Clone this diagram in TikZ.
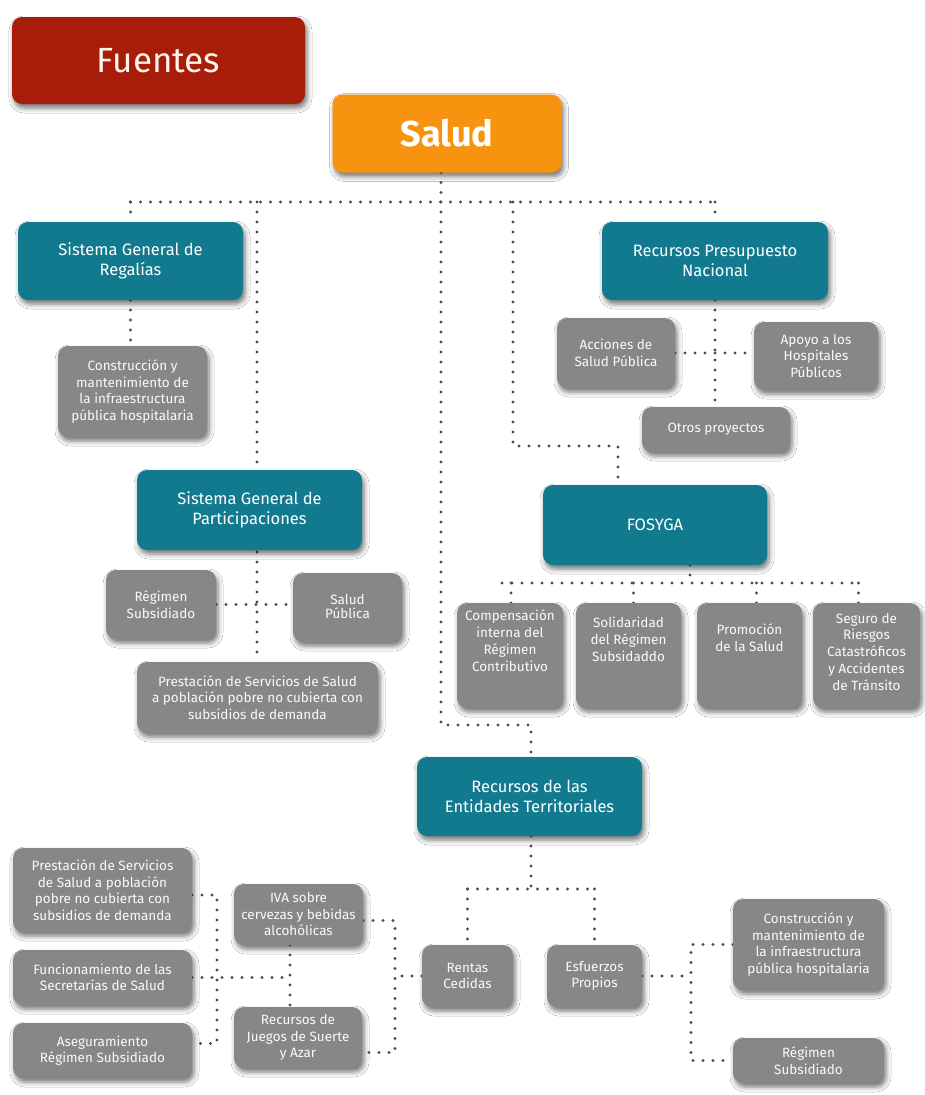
\documentclass[tikz,border=0pt]{standalone}
\usepackage{fontspec}
\setmainfont{Fira Sans}
\usetikzlibrary{shadows.blur,calc}

\definecolor{srcred}{HTML}{A81C0A}
\definecolor{salorange}{HTML}{F7930F}
\definecolor{boxteal}{HTML}{127A8F}
\definecolor{boxgray}{HTML}{878787}
\definecolor{dotgray}{HTML}{4D4D4D}

\tikzset{
  base/.style={rounded corners=10pt, align=center, text=white, inner sep=2pt,
    blur shadow={shadow xshift=2pt, shadow yshift=-4pt, shadow blur radius=5pt, shadow opacity=55}},
  headbox/.style={base, font=\fontsize{35}{40}\selectfont},
  tealbox/.style={base, fill=boxteal, font=\fontsize{16.5}{20}\selectfont},
  graybox/.style={base, fill=boxgray, text=white!96!gray, font=\fontsize{13.5}{16.5}\selectfont},
  graytext/.style={align=center, text=white!96!gray, inner sep=0pt, anchor=north,
    font=\fontsize{13.5}{16.8}\selectfont},
  dots/.style={draw=dotgray, line width=3.2pt, line cap=round, dash pattern=on 0pt off 10pt},
  anchorbox/.style={inner sep=0pt, outer sep=0pt},
}

\begin{document}
\begin{tikzpicture}[x=1pt, y=-1pt]
\useasboundingbox[fill=white] (0,0) rectangle (924,1095);

% ---------- junction points of the dotted connectors ----------
\coordinate (hub) at (441,202);
\coordinate (sgp) at (257,202);
\coordinate (fk1) at (513,202);
\coordinate (fk2) at (618,446);
\coordinate (ek) at (531,725);
\coordinate (fb) at (690,583);
\coordinate (fbl) at (502,583);
\coordinate (eb) at (531,889);
\coordinate (ev) at (691,977);
\coordinate (rv) at (395,977);
\coordinate (iv) at (290,978);
\coordinate (lv) at (217,978);

% ---------- box centres ----------
\path
  (447,133.5) coordinate (pSalud)
  (130.5,261) coordinate (pRegalias)
  (132.5,391.5) coordinate (pConstrA)
  (249.5,510) coordinate (pPartic)
  (161,604.5) coordinate (pRegSubA)
  (347.5,607.5) coordinate (pSaludPub)
  (257.5,697.5) coordinate (pPrestA)
  (715,261) coordinate (pRPN)
  (616,353) coordinate (pAcciones)
  (816,356) coordinate (pApoyo)
  (716,429.5) coordinate (pOtros)
  (655,525) coordinate (pFosyga)
  (510,655.5) coordinate (pComp)
  (628.5,655.5) coordinate (pSolid)
  (749.5,655.5) coordinate (pPromo)
  (866.5,655.5) coordinate (pSeguro)
  (529.5,796.5) coordinate (pEntidades)
  (467.5,976) coordinate (pRentas)
  (594.5,976) coordinate (pEsfuerzos)
  (808.5,944.5) coordinate (pConstrB)
  (808.5,1060.5) coordinate (pRegSubB)
  (298.5,914.5) coordinate (pIva)
  (298,1037.5) coordinate (pJuegos)
  (102.5,890) coordinate (pPrestB)
  (102.5,977.5) coordinate (pFuncion)
  (102.5,1050.5) coordinate (pAseg);

% ---------- invisible outlines used as connector ends ----------
\node[anchorbox, minimum width=229pt, minimum height=78pt] (salud) at (pSalud) {};
\node[anchorbox, minimum width=225pt, minimum height=78pt] (regalias) at (pRegalias) {};
\node[anchorbox, minimum width=149pt, minimum height=91pt] (constrA) at (pConstrA) {};
\node[anchorbox, minimum width=225pt, minimum height=80pt] (partic) at (pPartic) {};
\node[anchorbox, minimum width=110pt, minimum height=69pt] (regsubA) at (pRegSubA) {};
\node[anchorbox, minimum width=109pt, minimum height=69pt] (saludpub) at (pSaludPub) {};
\node[anchorbox, minimum width=241pt, minimum height=71pt] (prestA) at (pPrestA) {};
\node[anchorbox, minimum width=226pt, minimum height=78pt] (rpn) at (pRPN) {};
\node[anchorbox, minimum width=118pt, minimum height=70pt] (acciones) at (pAcciones) {};
\node[anchorbox, minimum width=124pt, minimum height=68pt] (apoyo) at (pApoyo) {};
\node[anchorbox, minimum width=148pt, minimum height=45pt] (otros) at (pOtros) {};
\node[anchorbox, minimum width=224pt, minimum height=80pt] (fosyga) at (pFosyga) {};
\node[anchorbox, minimum width=106pt, minimum height=105pt] (comp) at (pComp) {};
\node[anchorbox, minimum width=105pt, minimum height=105pt] (solid) at (pSolid) {};
\node[anchorbox, minimum width=105pt, minimum height=105pt] (promo) at (pPromo) {};
\node[anchorbox, minimum width=107pt, minimum height=105pt] (seguro) at (pSeguro) {};
\node[anchorbox, minimum width=225pt, minimum height=79pt] (entidades) at (pEntidades) {};
\node[anchorbox, minimum width=91pt, minimum height=62pt] (rentas) at (pRentas) {};
\node[anchorbox, minimum width=95pt, minimum height=62pt] (esfuerzos) at (pEsfuerzos) {};
\node[anchorbox, minimum width=151pt, minimum height=91pt] (constrB) at (pConstrB) {};
\node[anchorbox, minimum width=151pt, minimum height=45pt] (regsubB) at (pRegSubB) {};
\node[anchorbox, minimum width=129pt, minimum height=61pt] (iva) at (pIva) {};
\node[anchorbox, minimum width=128pt, minimum height=61pt] (juegos) at (pJuegos) {};
\node[anchorbox, minimum width=179pt, minimum height=84pt] (prestB) at (pPrestB) {};
\node[anchorbox, minimum width=179pt, minimum height=55pt] (funcion) at (pFuncion) {};
\node[anchorbox, minimum width=179pt, minimum height=55pt] (aseg) at (pAseg) {};

% ---------- dotted connectors (drawn before the boxes so these sit on top) ----------
\draw[dots] (salud.south -| hub) -- (hub);
\draw[dots] (regalias.north |- hub) -- (rpn.north |- hub);
\draw[dots] (regalias.north |- hub) -- (regalias.north);
\draw[dots] (rpn.north |- hub) -- (rpn.north);
\draw[dots] (regalias.south) -- (regalias.south |- constrA.north);
\draw[dots] (sgp) -- (sgp |- prestA.north);
\draw[dots] (regsubA.east) -- (regsubA.east -| saludpub.west);
\draw[dots] (rpn.south) -- (rpn.south |- otros.north);
\draw[dots] (acciones.east) -- (acciones.east -| apoyo.west);
\draw[dots] (fk1) -- (fk1 |- fk2) -- (fk2) -- (fk2 |- fosyga.north);
\draw[dots] (hub) -- (hub |- ek) -- (ek) -- (ek |- entidades.north);
\draw[dots] (fb |- fosyga.south) -- (fb);
\draw[dots] (fbl) -- ([xshift=-8pt]seguro.north |- fb);
\draw[dots] ([xshift=1pt]comp.north |- fb) -- ([xshift=1pt]comp.north);
\draw[dots] ([xshift=5pt]solid.north |- fb) -- ([xshift=5pt]solid.north);
\draw[dots] ([xshift=7pt]promo.north |- fb) -- ([xshift=7pt]promo.north);
\draw[dots] ([xshift=-8pt]seguro.north |- fb) -- ([xshift=-8pt]seguro.north);
\draw[dots] (entidades.south -| eb) -- (eb);
\draw[dots] (rentas.north |- eb) -- (esfuerzos.north |- eb);
\draw[dots] (rentas.north |- eb) -- (rentas.north);
\draw[dots] (esfuerzos.north |- eb) -- (esfuerzos.north);
\draw[dots] (esfuerzos.east) -- (esfuerzos.east -| ev);
\draw[dots] (constrB.west) -- (constrB.west -| ev) -- (regsubB.west -| ev) -- (regsubB.west);
\draw[dots] (rentas.west) -- (rentas.west -| rv);
\draw[dots] ([yshift=-6pt]iva.east) -- ([yshift=-6pt]iva.east -| rv)
  -- ([yshift=-15pt]juegos.east -| rv) -- ([yshift=-15pt]juegos.east);
\draw[dots] (iv |- iva.south) -- (iv |- juegos.north);
\draw[dots] (funcion.east) -- (funcion.east -| iv);
\draw[dots] ([yshift=-5pt]prestB.east) -- ([yshift=-5pt]prestB.east -| lv)
  -- ([yshift=7pt]aseg.east -| lv) -- ([yshift=7pt]aseg.east);

% ---------- header boxes ----------
\node[headbox, fill=srcred, minimum width=293pt, minimum height=87pt,
  text=white!92!orange] (fuentes) at (158.5,60.5) {Fuentes};
\node[headbox, fill=salorange, minimum width=229pt, minimum height=78pt,
  font=\fontsize{36}{40}\selectfont\bfseries] (saludbox) at (pSalud) {Salud};

% ---------- teal boxes ----------
\node[tealbox, minimum width=225pt, minimum height=78pt] (regaliasbox) at (pRegalias) {Sistema General de\\Regalías};
\node[tealbox, minimum width=225pt, minimum height=80pt] (particbox) at (pPartic) {Sistema General de\\Participaciones};
\node[tealbox, minimum width=226pt, minimum height=78pt] (rpnbox) at (pRPN) {Recursos Presupuesto\\Nacional};
\node[tealbox, minimum width=224pt, minimum height=80pt] (fosygabox) at (pFosyga) {FOSYGA};
\node[tealbox, minimum width=225pt, minimum height=79pt] (entidadesbox) at (pEntidades) {Recursos de las\\Entidades Territoriales};

% ---------- gray boxes ----------
\node[graybox, minimum width=149pt, minimum height=91pt] (constrAbox) at (pConstrA) {Construcción y\\mantenimiento de\\la infraestructura\\pública hospitalaria};
\node[graybox, minimum width=110pt, minimum height=69pt] (regsubAbox) at (pRegSubA) {Régimen\\Subsidiado};
\node[graybox, minimum width=109pt, minimum height=69pt] (saludpubbox) at (pSaludPub) {\raisebox{3pt}{\shortstack{Salud\\Pública}}};
\node[graybox, minimum width=241pt, minimum height=71pt] (prestAbox) at (pPrestA) {Prestación de Servicios de Salud\\a población pobre no cubierta con\\subsidios de demanda};
\node[graybox, minimum width=118pt, minimum height=70pt] (accionesbox) at (pAcciones) {Acciones de\\Salud Pública};
\node[graybox, minimum width=124pt, minimum height=68pt] (apoyobox) at (pApoyo) {Apoyo a los\\Hospitales\\Públicos};
\node[graybox, minimum width=148pt, minimum height=45pt] (otrosbox) at (pOtros) {Otros proyectos};

\node[graybox, minimum width=106pt, minimum height=105pt] (compbox) at (pComp) {};
\node[graybox, minimum width=105pt, minimum height=105pt] (solidbox) at (pSolid) {};
\node[graybox, minimum width=105pt, minimum height=105pt] (promobox) at (pPromo) {};
\node[graybox, minimum width=107pt, minimum height=105pt] (segurobox) at (pSeguro) {};
\node[graytext] (comptext) at ([yshift=-7pt]compbox.north) {Compensación\\interna del\\Régimen\\Contributivo};
\node[graytext] (solidtext) at ([yshift=-14pt]solidbox.north) {Solidaridad\\del Régimen\\Subsidaddo};
\node[graytext] (promotext) at ([yshift=-21pt]promobox.north) {Promoción\\de la Salud};
\node[graytext] (segurotext) at ([yshift=-10pt]segurobox.north) {Seguro de\\Riesgos\\Catastróficos\\y Accidentes\\de Tránsito};

\node[graybox, minimum width=91pt, minimum height=62pt] (rentasbox) at (pRentas) {Rentas\\Cedidas};
\node[graybox, minimum width=95pt, minimum height=62pt] (esfuerzosbox) at (pEsfuerzos) {Esfuerzos\\Propios};
\node[graybox, minimum width=151pt, minimum height=91pt] (constrBbox) at (pConstrB) {Construcción y\\mantenimiento de\\la infraestructura\\pública hospitalaria};
\node[graybox, minimum width=151pt, minimum height=45pt] (regsubBbox) at (pRegSubB) {Régimen\\Subsidiado};
\node[graybox, minimum width=129pt, minimum height=61pt] (ivabox) at (pIva) {IVA sobre\\cervezas y bebidas\\alcohólicas};
\node[graybox, minimum width=128pt, minimum height=61pt] (juegosbox) at (pJuegos) {Recursos de\\Juegos de Suerte\\y Azar};
\node[graybox, minimum width=179pt, minimum height=84pt] (prestBbox) at (pPrestB) {Prestación de Servicios\\de Salud a población\\pobre no cubierta con\\subsidios de demanda};
\node[graybox, minimum width=179pt, minimum height=55pt] (funcionbox) at (pFuncion) {Funcionamiento de las\\Secretarías de Salud};
\node[graybox, minimum width=179pt, minimum height=55pt] (asegbox) at (pAseg) {Aseguramiento\\Régimen Subsidiado};
\end{tikzpicture}
\end{document}
